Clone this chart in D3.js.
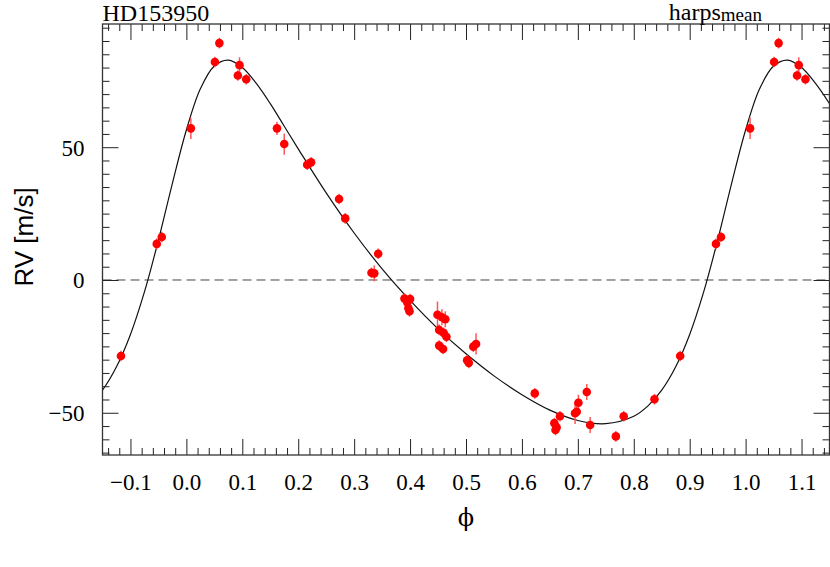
<!DOCTYPE html>
<html><head><meta charset="utf-8">
<script src="https://cdn.jsdelivr.net/npm/d3@7/dist/d3.min.js"></script>
<style>body{margin:0;background:#fff}svg{display:block}</style>
</head><body>
<svg id="c" width="830" height="567"></svg>
<script>
// Observed phases (0..1) and RV [m/s] with uncertainties
const phase = [0.008,0.051,0.059,0.092,0.095,0.107,0.162,0.175,0.216,0.223,0.273,0.284,0.331,0.336,0.343,
  0.390,0.395,0.400,0.397,0.399,0.449,0.457,0.463,0.452,0.460,0.465,0.452,0.459,0.502,0.505,0.513,0.518,
  0.623,0.668,0.658,0.662,0.660,0.695,0.698,0.701,0.716,0.722,0.768,0.782,0.837,0.883,0.947,0.956];
const rv = [57.1,82.1,89.2,77.0,80.9,75.6,57.1,51.2,43.4,44.3,30.5,23.2,2.7,2.5,9.9,
  -7.0,-8.5,-7.2,-10.6,-11.8,-13.1,-14.0,-14.8,-18.8,-19.9,-21.4,-24.7,-26.0,-30.2,-31.2,-25.1,-24.1,
  -42.7,-51.3,-53.9,-55.5,-56.5,-50.2,-49.6,-46.2,-42.2,-54.6,-58.9,-51.3,-44.9,-28.6,13.6,16.2];
const rvErr = [4,2,2,2,3,2,2.5,4,2,2,2,2,2,3,2,
  2,2,2,2,2,5,3,3,2,2,2,2,2,2,2,2,4,
  2,2,2,2,2,4,2,3,3,3,2,2,2,2,2,2];
// Orbital model curve sampled in phase
const curvePhase = [0,0.025,0.05,0.075,0.1,0.125,0.15,0.175,0.2,0.25,0.3,0.35,0.4,0.45,0.5,0.55,0.6,0.65,0.7,0.75,0.8,0.825,0.85,0.875,0.9,0.925,0.95,0.975];
const curveRV = [56.5,72.0,80.6,82.8,80.0,74.0,66.4,57.9,49.4,32.8,17.7,4.2,-7.7,-18.4,-27.8,-36.1,-43.2,-49.0,-52.9,-54.1,-51.3,-47.5,-41.5,-32.7,-20.5,-4.5,15.0,36.4];
const xMajor = [-0.1,0.0,0.1,0.2,0.3,0.4,0.5,0.6,0.7,0.8,0.9,1.0,1.1];
const yMajor = [-50,0,50];
const title = "HD153950", instMain = "harps", instSub = "mean";

const L=102.5, R=829.5, T=24, B=455;
const svg = d3.select("#c");
const x = d3.scaleLinear().domain([-0.15,1.15]).range([L,R]);
const y = d3.scaleLinear().domain([-65.9,96.4]).range([B,T]);
const serif = "'Liberation Serif','Times New Roman',serif";
const sans = "'Liberation Sans',Arial,sans-serif";

svg.append("clipPath").attr("id","clip").append("rect").attr("x",L).attr("y",T).attr("width",R-L).attr("height",B-T);

// zero line
svg.append("line").attr("x1",L).attr("x2",R).attr("y1",y(0)).attr("y2",y(0))
  .attr("stroke","#444").attr("stroke-width",1).attr("stroke-dasharray","9,5");

// model curve, repeated over the extended phase range
const cpts=[];
[-1,0,1].forEach(k=>curvePhase.forEach((p,i)=>{const q=p+k; if(q>-0.25&&q<1.25) cpts.push([q,curveRV[i]]);}));
cpts.sort((a,b)=>a[0]-b[0]);
svg.append("path").attr("clip-path","url(#clip)").attr("d",
  d3.line().x(d=>x(d[0])).y(d=>y(d[1])).curve(d3.curveCatmullRom.alpha(0.5))(cpts))
  .attr("fill","none").attr("stroke","#111").attr("stroke-width",1.2);

// data points (with phase-wrapped duplicates)
const pts=[];
[-1,0,1].forEach(k=>phase.forEach((p,i)=>{const q=p+k; if(q>=-0.15&&q<=1.15) pts.push({p:q,v:rv[i],e:rvErr[i]});}));
const g = svg.append("g").attr("clip-path","url(#clip)");
g.selectAll("line.err").data(pts).join("line").attr("class","err")
  .attr("x1",d=>x(d.p)).attr("x2",d=>x(d.p)).attr("y1",d=>y(d.v-d.e)).attr("y2",d=>y(d.v+d.e))
  .attr("stroke","#ff5555").attr("stroke-width",1.5);
g.selectAll("circle").data(pts).join("circle")
  .attr("cx",d=>x(d.p)).attr("cy",d=>y(d.v)).attr("r",4.3).attr("fill","#ff0000");

// axes
const xMinor = d3.range(-14,116,2).map(v=>v/100).filter(v=>!xMajor.some(m=>Math.abs(m-v)<1e-9));
const yMinor = d3.range(-65,96,5).filter(v=>v%50!==0);
function ax(gen, scale, vals, size, tx, ty, fmt){
  const a = gen(scale).tickValues(vals).tickSize(-size).tickSizeOuter(0).tickFormat(fmt||"");
  const s = svg.append("g").attr("transform",`translate(${tx},${ty})`).call(a);
  s.select(".domain").remove();
  s.selectAll(".tick line").attr("stroke","#222").attr("stroke-width",1);
  return s;
}
const xb = ax(d3.axisBottom,x,xMajor,16,0,B,d3.format(".1f"));
xb.selectAll("text").attr("y",35).attr("dy",0).attr("font-family",serif).attr("font-size",23).attr("fill","#000");
ax(d3.axisBottom,x,xMinor,7,0,B);
ax(d3.axisTop,x,xMajor,16,0,T);
ax(d3.axisTop,x,xMinor,7,0,T);
const yl = ax(d3.axisLeft,y,yMajor,16,L,0,d3.format("d"));
yl.selectAll("text").attr("x",-18).attr("dy","0.34em").attr("font-family",serif).attr("font-size",23).attr("fill","#000");
ax(d3.axisLeft,y,yMinor,7,L,0);
ax(d3.axisRight,y,yMajor,16,R,0);
ax(d3.axisRight,y,yMinor,7,R,0);

svg.append("rect").attr("x",L).attr("y",T).attr("width",R-L).attr("height",B-T)
  .attr("fill","none").attr("stroke","#333").attr("stroke-width",1.3);

// labels
svg.append("text").attr("x",L).attr("y",20.5).attr("font-family",serif).attr("font-size",24).text(title);
const h = svg.append("text").attr("x",762).attr("y",19.5).attr("text-anchor","end").attr("font-family",serif).attr("font-size",24);
h.append("tspan").text(instMain);
h.append("tspan").attr("font-size",19).attr("dy",1.5).text(instSub);
svg.append("text").attr("transform","translate(33,237) rotate(-90)").attr("text-anchor","middle")
  .attr("font-family",sans).attr("font-size",26).text("RV [m/s]");
svg.append("text").attr("x",466).attr("y",526).attr("text-anchor","middle")
  .attr("font-family","'DejaVu Serif',serif").attr("font-size",24).text("\u03D5");
</script>
</body></html>
